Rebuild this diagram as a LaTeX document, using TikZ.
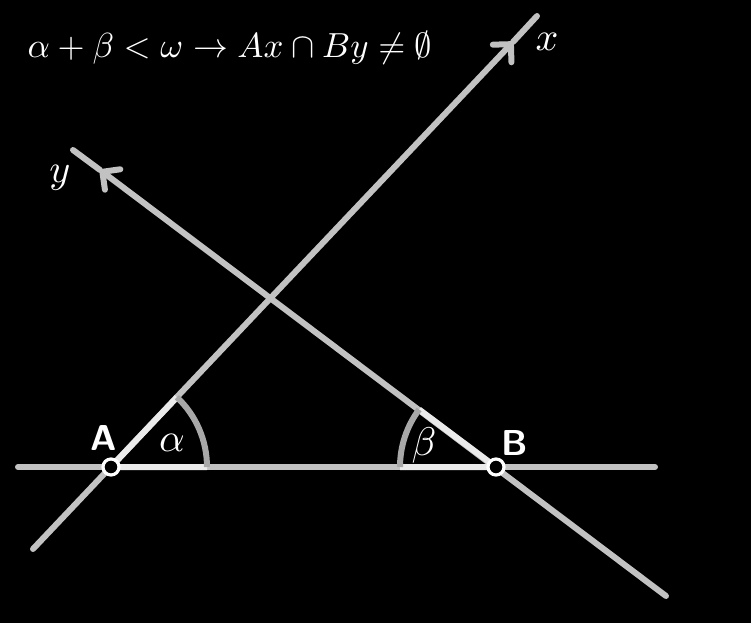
\documentclass[tikz,border=0pt]{standalone}
\usepackage{amsmath}
\usepackage{amssymb}
\usetikzlibrary{arrows.meta,calc}
\tikzset{
  axisline/.style={draw=white!76!black, line width=1.5pt, line cap=round},
  sideline/.style={draw=white!92!black, line width=1.5pt},
  anglearc/.style={draw=white!66!black, line width=1.5pt},
  vertex/.style={draw=white, fill=black, circle, line width=0.8pt, minimum size=4pt, inner sep=0pt},
  vlabel/.style={text=white, font=\sffamily\bfseries\small},
  mlabel/.style={text=white, inner sep=0pt},
  barb/.style={-{Straight Barb[length=3.2pt,width=6.4pt,round]}}
}
\begin{document}
\begin{tikzpicture}[x=0.25pt, y=0.25pt]
  \fill[black] (0,0) rectangle (751,623);
  \useasboundingbox (0,0) rectangle (751,623);
  % points and line ends
  \coordinate (A) at (111,156);
  \coordinate (B) at (496,156);
  \coordinate (hl) at (18,156);
  \coordinate (hr) at (655,156);
  \coordinate (xs) at (33,74);
  \coordinate (xv) at (513,581);
  \coordinate (xe) at (537,607);
  \coordinate (ys) at (666,27);
  \coordinate (yv) at (100,453);
  \coordinate (ye) at (73,473);
  % lines
  \draw[axisline] (hl) -- (hr);
  \draw[axisline, barb] (xs) -- (xv);
  \draw[axisline] (xv) -- (xe);
  \draw[axisline, barb] (ys) -- (yv);
  \draw[axisline] (yv) -- (ye);
  % angles
  \draw[sideline] (A) -- ++(0:24pt) (A) -- ++(46.6:24pt);
  \draw[anglearc] (A) ++(0:24pt) arc[start angle=0, end angle=46.6, radius=24pt];
  \draw[sideline] (B) -- ++(180:24pt) (B) -- ++(143.2:24pt);
  \draw[anglearc] (B) ++(143.2:24pt) arc[start angle=143.2, end angle=180, radius=24pt];
  \node[vertex] (pA) at (A) {};
  \node[vertex] (pB) at (B) {};
  % labels
  \node[vlabel] (lA) at (104,185) {A};
  \node[vlabel] (lB) at (515,180) {B};
  \node[mlabel] (la) at (172,180) {$\alpha$};
  \node[mlabel] (lb) at (424,178) {$\beta$};
  \node[mlabel] (lx) at (547,581) {$x$};
  \node[mlabel] (ly) at (60,445) {$y$};
  \node[mlabel, scale=0.87] (rule) at (230,575) {$\alpha+\beta<\omega\to Ax\cap By\neq\emptyset$};
\end{tikzpicture}
\end{document}
